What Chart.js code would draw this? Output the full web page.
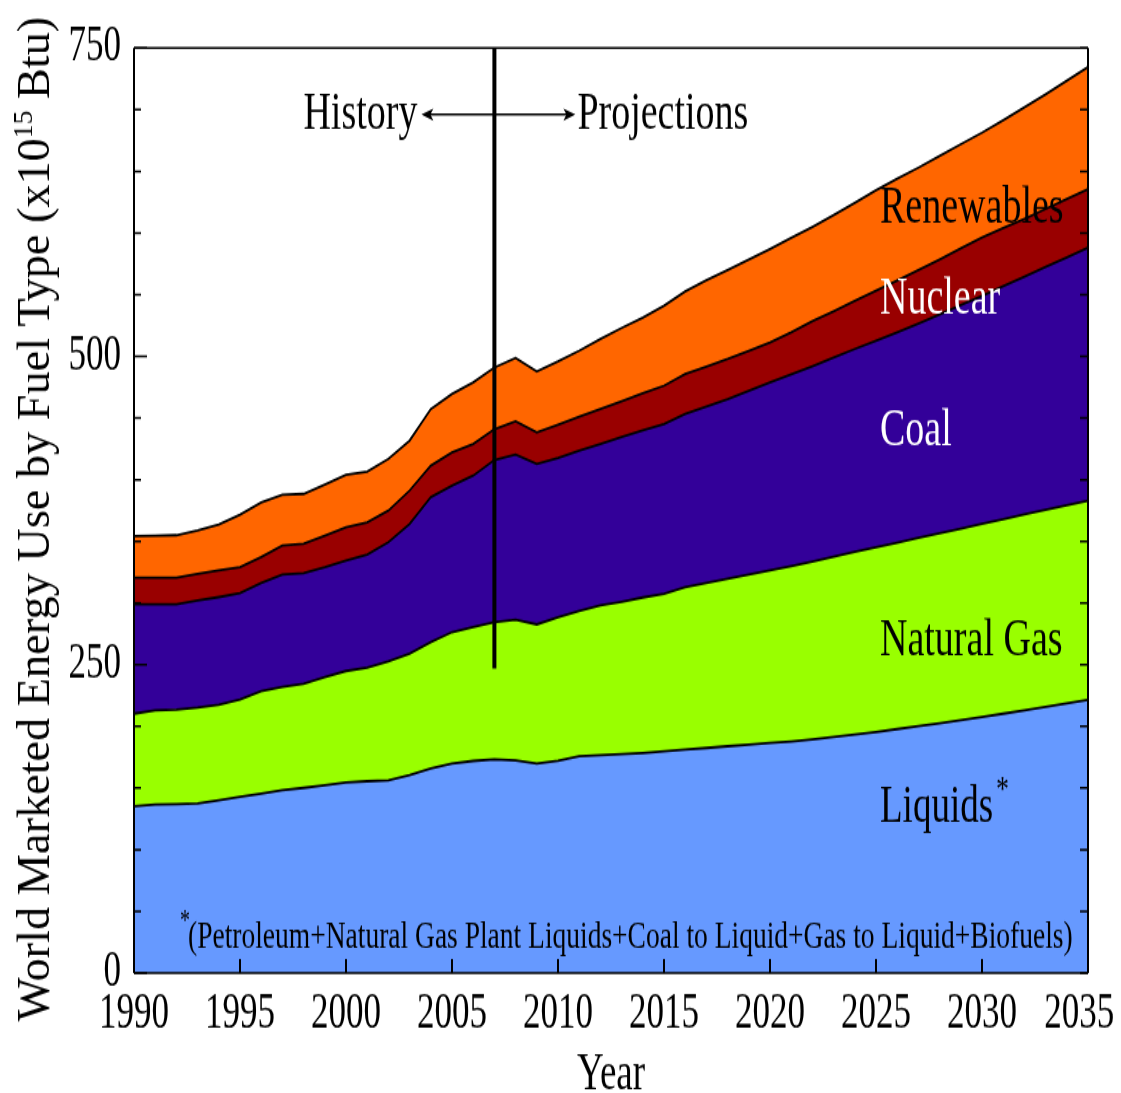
<!DOCTYPE html>
<html>
<head>
<meta charset="utf-8">
<script src="https://cdn.jsdelivr.net/npm/chart.js@4.4.1/dist/chart.umd.min.js"></script>
<style>
html,body{margin:0;padding:0;background:#fff;overflow:hidden;width:1121px;height:1093px;}
#wrap{position:absolute;left:0;top:0;width:1121px;height:781px;transform:scaleY(1.4);transform-origin:0 0;}
</style>
</head>
<body>
<div id="wrap"><canvas id="c"></canvas></div>
<script>
const years = ['1990','1991','1992','1993','1994','1995','1996','1997','1998','1999',
  '2000','2001','2002','2003','2004','2005','2006','2007','2008','2009',
  '2010','2011','2012','2013','2014','2015','2016','2017','2018','2019',
  '2020','2021','2022','2023','2024','2025','2026','2027','2028','2029',
  '2030','2031','2032','2033','2034','2035'];

const liquids = [135.3,136.6,136.9,137.4,140.1,142.8,145.5,148.2,150.1,152.3,
  154.5,155.5,156.3,160.4,165.8,169.9,172.0,173.3,172.5,169.9,
  172.0,175.8,176.6,177.4,178.4,179.8,181.2,182.5,183.9,185.2,
  186.5,187.8,189.5,191.5,193.5,195.4,197.8,200.2,202.6,205.0,
  207.6,210.3,213.0,215.8,218.6,221.5];

const naturalGas = [75.0,76.4,76.7,77.8,77.5,78.9,83.1,83.7,84.5,87.7,
  90.4,92.1,96.4,98.5,102.5,106.5,108.5,111.2,114.0,112.8,
  116.6,117.7,121.4,123.6,126.1,127.7,131.7,133.8,135.8,137.8,
  139.9,142.2,144.0,146.0,148.0,149.9,151.2,152.6,153.9,155.3,
  156.6,157.7,158.8,159.7,160.7,161.6];

const coal = [88.6,85.9,85.3,86.8,87.2,86.3,87.6,91.3,89.6,89.0,
  89.6,91.7,96.6,105.3,117.5,118.8,122.8,131.5,133.9,130.1,
  129.1,130.0,131.0,133.5,135.5,137.7,140.4,143.0,145.6,149.0,
  152.5,155.5,158.5,161.5,164.5,167.4,170.5,173.7,177.5,181.2,
  184.9,189.0,192.7,197.0,201.0,205.1];

const nuclear = [21.6,21.6,21.6,21.7,21.6,21.0,21.0,23.4,23.8,25.7,
  27.0,26.2,25.7,27.0,25.6,27.0,25.7,25.0,26.9,25.6,
  26.9,27.5,28.3,29.0,30.0,31.0,32.3,32.4,32.5,32.5,
  32.4,34.0,36.5,37.5,39.0,40.5,42.0,43.5,44.5,46.0,
  47.2,47.0,47.0,47.0,47.2,47.3];

const renewables = [33.7,34.2,34.5,35.1,37.2,42.7,44.3,41.1,40.5,41.3,
  42.5,41.1,41.9,40.5,45.9,47.3,49.9,50.0,51.3,49.4,
  51.3,53.6,56.7,59.5,61.5,64.8,67.0,70.1,72.2,74.0,
  75.7,76.5,76.5,78.0,79.5,81.5,82.5,83.0,84.0,84.5,
  85.1,87.5,90.5,93.0,96.0,99.1];

const seriesNames = ['Liquids','Natural Gas','Coal','Nuclear','Renewables'];
const xTickLabels = ['1990','1995','2000','2005','2010','2015','2020','2025','2030','2035'];
const yTickValues = [0,250,500,750];
const yMinorTickValues = [0,50,100,150,200,250,300,350,400,450,500,550,600,650,700,750];

const SERIF = '"Liberation Serif","Times New Roman",serif';
const S = 1.4; // vertical stretch applied to the wrapper

const frameTicks = {
  id: 'frameTicks',
  afterDatasetsDraw(chart) {
    const {ctx, chartArea: a, scales: {x, y}} = chart;
    ctx.save();
    ctx.strokeStyle = '#000';
    ctx.lineWidth = 1.5;
    yMinorTickValues.forEach(v => {
      const py = y.getPixelForValue(v);
      const L = yTickValues.includes(v) ? 13 : 7;
      ctx.beginPath();
      ctx.moveTo(a.left, py); ctx.lineTo(a.left + L, py);
      ctx.moveTo(a.right, py); ctx.lineTo(a.right - 8, py);
      ctx.stroke();
    });
    ctx.lineWidth = 2;
    xTickLabels.forEach(l => {
      const px = x.getPixelForValue(years.indexOf(l));
      ctx.beginPath();
      ctx.moveTo(px, a.bottom); ctx.lineTo(px, a.bottom - 10);
      ctx.stroke();
    });
    // frame
    ctx.lineWidth = 2;
    ctx.beginPath();
    ctx.moveTo(a.left, a.top); ctx.lineTo(a.left, a.bottom);
    ctx.moveTo(a.right, a.top); ctx.lineTo(a.right, a.bottom);
    ctx.stroke();
    ctx.lineWidth = 1.5;
    ctx.beginPath();
    ctx.moveTo(a.left, a.top); ctx.lineTo(a.right, a.top);
    ctx.moveTo(a.left, a.bottom); ctx.lineTo(a.right, a.bottom);
    ctx.stroke();
    ctx.restore();
  }
};

const annotations = {
  id: 'annotations',
  afterDraw(chart) {
    const {ctx, chartArea: a, scales: {x, y}} = chart;
    const px = yr => x.getPixelForValue(yr - 1990);
    ctx.save();
    // history / projections divider
    const dx = px(2007);
    ctx.strokeStyle = '#000';
    ctx.lineWidth = 4;
    ctx.beginPath();
    ctx.moveTo(dx, a.top); ctx.lineTo(dx, y.getPixelForValue(247));
    ctx.stroke();
    // arrow
    const ay = y.getPixelForValue(696);
    const l = dx - 73, r = dx + 81;
    ctx.lineWidth = 1.5;
    ctx.beginPath(); ctx.moveTo(l + 6, ay); ctx.lineTo(r - 6, ay); ctx.stroke();
    ctx.fillStyle = '#000';
    ctx.beginPath(); ctx.moveTo(l, ay); ctx.lineTo(l + 12, ay - 4.3); ctx.lineTo(l + 9, ay); ctx.lineTo(l + 12, ay + 4.3); ctx.closePath(); ctx.fill();
    ctx.beginPath(); ctx.moveTo(r, ay); ctx.lineTo(r - 12, ay - 4.3); ctx.lineTo(r - 9, ay); ctx.lineTo(r - 12, ay + 4.3); ctx.closePath(); ctx.fill();

    ctx.font = '38px ' + SERIF;
    ctx.textBaseline = 'alphabetic';
    const tb = y.getPixelForValue(685);
    ctx.textAlign = 'right';
    ctx.fillText('History', l - 4, tb);
    ctx.textAlign = 'left';
    ctx.fillText('Projections', r + 2, tb);

    // series labels
    const lx = px(2025) + 4;
    ctx.fillStyle = '#000';
    ctx.fillText(seriesNames[4], lx, y.getPixelForValue(608));
    ctx.fillStyle = '#fff';
    ctx.fillText(seriesNames[3], lx, y.getPixelForValue(534.5));
    ctx.fillText(seriesNames[2], lx, y.getPixelForValue(427.6));
    ctx.fillStyle = '#000';
    ctx.fillText(seriesNames[1], lx, y.getPixelForValue(257.5));
    ctx.font = '37px ' + SERIF;
    const ly = y.getPixelForValue(122.3);
    ctx.fillText(seriesNames[0], lx, ly);
    const lw = ctx.measureText(seriesNames[0]).width;
    ctx.font = '26px ' + SERIF;
    ctx.fillText('*', lx + lw + 3, ly - 15);

    // footnote
    const fy = y.getPixelForValue(21);
    ctx.font = '20px ' + SERIF;
    ctx.fillText('*', 180, fy - 13);
    ctx.font = '27.5px ' + SERIF;
    ctx.fillText('(Petroleum+Natural Gas Plant Liquids+Coal to Liquid+Gas to Liquid+Biofuels)', 188, fy);

    // y axis title (drawn unstretched)
    ctx.translate(49, 519 / S);
    ctx.scale(1, 1 / S);
    ctx.rotate(-Math.PI / 2);
    const mainF = '46.3px ' + SERIF, supF = '27.5px ' + SERIF;
    const t1 = 'World Marketed Energy Use by Fuel Type (x10', t2 = '15', t3 = ' Btu)';
    ctx.font = mainF; const w1 = ctx.measureText(t1).width, w3 = ctx.measureText(t3).width;
    ctx.font = supF; const w2 = ctx.measureText(t2).width;
    let sx = -(w1 + w2 + w3) / 2;
    ctx.textAlign = 'left';
    ctx.fillStyle = '#000';
    ctx.font = mainF; ctx.fillText(t1, sx, 0); sx += w1;
    ctx.font = supF; ctx.fillText(t2, sx, -17); sx += w2;
    ctx.font = mainF; ctx.fillText(t3, sx, 0);
    ctx.restore();
  }
};

const common = {borderColor: '#000', borderWidth: 1.8, pointRadius: 0, tension: 0};

new Chart(document.getElementById('c'), {
  type: 'line',
  data: {
    labels: years,
    datasets: [
      Object.assign({label: seriesNames[0], data: liquids, backgroundColor: '#6699ff', fill: 'origin'}, common),
      Object.assign({label: seriesNames[1], data: naturalGas, backgroundColor: '#99ff00', fill: '-1'}, common),
      Object.assign({label: seriesNames[2], data: coal, backgroundColor: '#330099', fill: '-1'}, common),
      Object.assign({label: seriesNames[3], data: nuclear, backgroundColor: '#990000', fill: '-1'}, common),
      Object.assign({label: seriesNames[4], data: renewables, backgroundColor: '#ff6600', fill: '-1'}, common)
    ]
  },
  options: {
    responsive: true,
    maintainAspectRatio: false,
    animation: false,
    layout: {padding: {left: 0, right: 33, top: 34.3, bottom: 0}},
    plugins: {legend: {display: false}, tooltip: {enabled: false}, title: {display: false}},
    scales: {
      x: {
        type: 'category',
        offset: false,
        grid: {display: false, drawTicks: false},
        border: {display: false},
        ticks: {
          autoSkip: false, maxRotation: 0, minRotation: 0, padding: 9, color: '#000',
          font: {family: SERIF, size: 35},
          callback(v) {
            const lab = this.getLabelForValue(v);
            if (!xTickLabels.includes(lab)) return '';
            return lab === '2035' ? lab + '\u2002' : lab;
          }
        },
        title: {display: true, text: 'Year', color: '#000', font: {family: SERIF, size: 37, lineHeight: 0.6}, padding: {top: 0, bottom: 2}},
        afterFit(s) { s.height = 86; s.paddingLeft = 0; s.paddingRight = 0; }
      },
      y: {
        stacked: true,
        min: 0, max: 750,
        grid: {display: false, drawTicks: false},
        border: {display: false},
        afterBuildTicks(s) { s.ticks = yTickValues.map(v => ({value: v})); },
        ticks: {padding: 13, color: '#000', font: {family: SERIF, size: 35}},
        afterFit(s) { s.width = 134; s.paddingTop = 0; s.paddingBottom = 0; }
      }
    }
  },
  plugins: [frameTicks, annotations]
});
</script>
</body>
</html>
